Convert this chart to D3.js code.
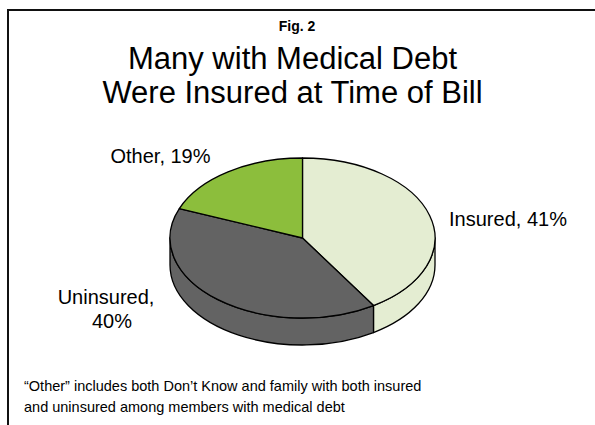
<!DOCTYPE html>
<html>
<head>
<meta charset="utf-8">
<script src="https://cdn.jsdelivr.net/npm/d3@7"></script>
<style>
  html, body { margin: 0; padding: 0; background: #fff; }
  svg { display: block; font-family: "Liberation Sans", Arial, sans-serif; }
</style>
</head>
<body>
<svg id="chart" width="595" height="425"></svg>
<script>
// Share of people with medical debt by insurance status at time of bill
const categories = ["Insured", "Uninsured", "Other"];
const values = [41, 40, 19];
const colors = ["#e4edd2", "#636363", "#8cbe3c"];

const figLabel = "Fig. 2";
const titleLines = ["Many with Medical Debt", "Were Insured at Time of Bill"];
const noteLines = [
  "\u201COther\u201D includes both Don\u2019t Know and family with both insured",
  "and uninsured among members with medical debt"
];

const svg = d3.select("#chart");

// frame: top and left rules
svg.append("path")
  .attr("d", "M8,425 L8,10 L595,10")
  .attr("fill", "none")
  .attr("stroke", "#111")
  .attr("stroke-width", 2);

// headings
svg.append("text")
  .attr("x", 297).attr("y", 31)
  .attr("text-anchor", "middle")
  .attr("font-size", 14).attr("font-weight", "bold")
  .text(figLabel);

svg.selectAll("text.title")
  .data(titleLines)
  .join("text")
  .attr("class", "title")
  .attr("x", 292.5)
  .attr("y", (d, i) => 69 + i * 34)
  .attr("text-anchor", "middle")
  .attr("font-size", 31)
  .text(d => d);

// 3-D pie geometry
const cx = 302.5, cy = 238, rx = 132.5, ry = 80, depth = 27;

const pie = d3.pie().sort(null).startAngle(0).endAngle(2 * Math.PI);
const arcs = pie(values);

const px = a => cx + rx * Math.sin(a);
const py = a => cy - ry * Math.cos(a);

// side walls on the visible front half
const walls = svg.append("g");
arcs.forEach((a, i) => {
  const s = Math.max(a.startAngle, Math.PI / 2);
  const e = Math.min(a.endAngle, 3 * Math.PI / 2);
  if (e <= s) return;
  const large = (e - s) > Math.PI ? 1 : 0;
  const d = `M${px(s)},${py(s)}` +
    ` A${rx},${ry} 0 ${large} 1 ${px(e)},${py(e)}` +
    ` L${px(e)},${py(e) + depth}` +
    ` A${rx},${ry} 0 ${large} 0 ${px(s)},${py(s) + depth} Z`;
  walls.append("path")
    .attr("d", d)
    .attr("fill", colors[i])
    .attr("stroke", "#000")
    .attr("stroke-width", 1.3)
    .attr("stroke-linejoin", "round");
});

// top faces
const arcGen = d3.arc().innerRadius(0).outerRadius(rx);
const faces = svg.append("g")
  .attr("transform", `translate(${cx},${cy}) scale(1,${ry / rx})`);
faces.selectAll("path")
  .data(arcs)
  .join("path")
  .attr("d", arcGen)
  .attr("fill", (d, i) => colors[i])
  .attr("stroke", "#000")
  .attr("stroke-width", 1.3)
  .attr("stroke-linejoin", "round")
  .attr("vector-effect", "non-scaling-stroke");

// slice labels
const labelFmt = (c, v) => `${c}, ${v}%`;
svg.append("text")
  .attr("x", 160.5).attr("y", 163)
  .attr("text-anchor", "middle").attr("font-size", 20)
  .text(labelFmt(categories[2], values[2]));

svg.append("text")
  .attr("x", 508).attr("y", 226)
  .attr("text-anchor", "middle").attr("font-size", 20)
  .text(labelFmt(categories[0], values[0]));

const unLabel = svg.append("text")
  .attr("text-anchor", "middle").attr("font-size", 20);
unLabel.append("tspan").attr("x", 106).attr("y", 304).text(categories[1] + ",");
unLabel.append("tspan").attr("x", 112).attr("y", 328).text(values[1] + "%");

// footnote
svg.selectAll("text.note")
  .data(noteLines)
  .join("text")
  .attr("class", "note")
  .attr("x", 24)
  .attr("y", (d, i) => 391 + i * 21)
  .attr("font-size", 14.5)
  .text(d => d);
</script>
</body>
</html>
